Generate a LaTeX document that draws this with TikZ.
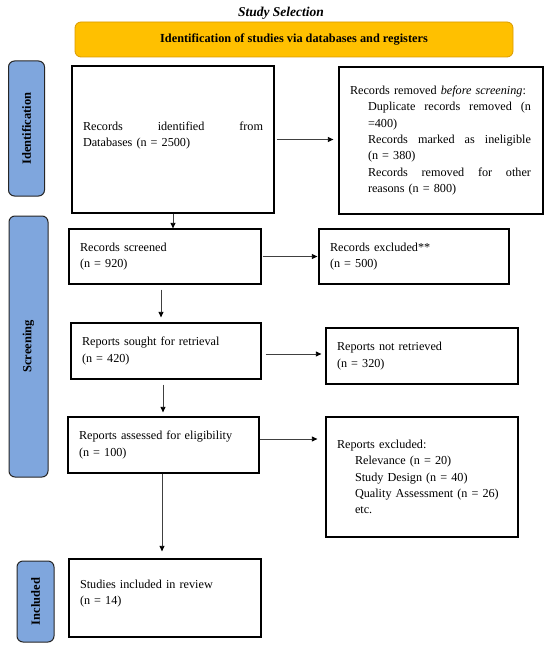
\documentclass[tikz,border=0pt]{standalone}
\usepackage{fontspec}
\setmainfont{Liberation Serif}
\usetikzlibrary{arrows.meta}
\definecolor{sideblue}{HTML}{7FA6DD}
\definecolor{hdrorange}{HTML}{FFC000}
\definecolor{hdrborder}{HTML}{D99A00}
\begin{document}
\begin{tikzpicture}[x=1pt,y=-1pt,
  box/.style={draw=black, line width=1.3pt, fill=white, inner xsep=11pt, inner ysep=0pt,
    align=left, font=\fontsize{12.2}{16.3}\selectfont},
  side/.style={draw=black!85, line width=1pt, fill=sideblue, rounded corners=6pt, rotate=90,
    inner sep=0pt, font=\bfseries\fontsize{12.5}{14}\selectfont},
  arr/.style={draw=black!75, line width=0.8pt, -{Triangle[length=5.5pt,width=5pt,color=black]}}
]
\useasboundingbox (0,0) rectangle (550,650);

\node[font=\bfseries\itshape\fontsize{13.5}{15}\selectfont] (title) at (281,13) {Study Selection};
\node[draw=hdrborder, line width=0.8pt, fill=hdrorange, rounded corners=6pt, minimum width=438pt,
  minimum height=35pt, font=\bfseries\fontsize{12.3}{14}\selectfont] (hdr) at (294,39.5)
  {Identification of studies via databases and registers};

\node[side, minimum width=135pt, minimum height=36pt] (sideI) at (26.5,128.5) {Identification};
\node[side, minimum width=261pt, minimum height=39pt] (sideS) at (28.5,346.5) {Screening};
\node[side, minimum width=81pt, minimum height=37pt] (sideN) at (35.5,601.5) {Included};

\node[box, text width=180pt, minimum height=147pt] (ident) at (173,139.5)
  {\hbox to 180pt{Records\hfill identified\hfill from}\\Databases (n = 2500)\rule[-11pt]{0pt}{1pt}};
\node[box, text width=182pt, minimum height=147pt] (removed) at (441,140.5)
  {Records removed \textit{before screening}:\\
   \hspace*{18pt}\hbox to 163pt{Duplicate\hfill records\hfill removed\hfill (n}\\
   \hspace*{18pt}=400)\\
   \hspace*{18pt}\hbox to 163pt{Records\hfill marked\hfill as\hfill ineligible}\\
   \hspace*{18pt}(n = 380)\\
   \hspace*{18pt}\hbox to 163pt{Records\hfill removed\hfill for\hfill other}\\
   \hspace*{18pt}reasons (n = 800)};

\node[box, text width=170pt, minimum height=55pt] (screened) at (165,256.5)
  {Records screened\\(n = 920)};
\node[box, text width=168pt, minimum height=55pt] (excl) at (414,256.5)
  {Records excluded**\\(n = 500)};

\node[box, text width=168pt, minimum height=56pt] (sought) at (166,351)
  {Reports sought for retrieval\\(n = 420)};
\node[box, text width=170pt, minimum height=56pt] (notret) at (422,356)
  {Reports not retrieved\\(n = 320)};

\node[box, text width=169pt, minimum height=56pt] (assessed) at (163.5,445)
  {Reports assessed for eligibility\\(n = 100)};
\node[box, text width=170pt, minimum height=120pt] (rexcl) at (422,477)
  {Reports excluded:\\
   \hspace*{18pt}Relevance (n = 20)\\
   \hspace*{18pt}Study Design (n = 40)\\
   \hspace*{18pt}Quality Assessment (n = 26)\\
   \hspace*{18pt}etc.};

\node[box, text width=170pt, minimum height=78pt] (incl) at (165,598)
  {Studies included in review\\(n = 14)\rule[-11pt]{0pt}{1pt}};

% connectors
\draw[arr, shorten <=2pt, shorten >=5pt] (ident.east) -- (ident.east -| removed.west);
\draw[arr] (ident.south) -- (ident.south |- screened.north);
\draw[arr, shorten <=1pt, shorten >=1pt] (screened.east) -- (screened.east -| excl.west);
\draw[arr, shorten <=5pt, shorten >=5pt] ([xshift=-4pt]screened.south) -- ([xshift=-4pt]screened.south |- sought.north);
\draw[arr, shorten <=4pt, shorten >=4pt] ([yshift=-3pt]sought.east) -- ([yshift=-3pt]sought.east -| notret.west);
\draw[arr, shorten <=5pt, shorten >=4pt] ([xshift=-3pt]sought.south) -- ([xshift=-3pt]sought.south |- assessed.north);
\draw[arr, shorten >=8pt] ([yshift=6pt]assessed.east) -- ([yshift=6pt]assessed.east -| rexcl.west);
\draw[arr, shorten >=7pt] ([xshift=-1.5pt]assessed.south) -- ([xshift=-1.5pt]assessed.south |- incl.north);
\end{tikzpicture}
\end{document}
